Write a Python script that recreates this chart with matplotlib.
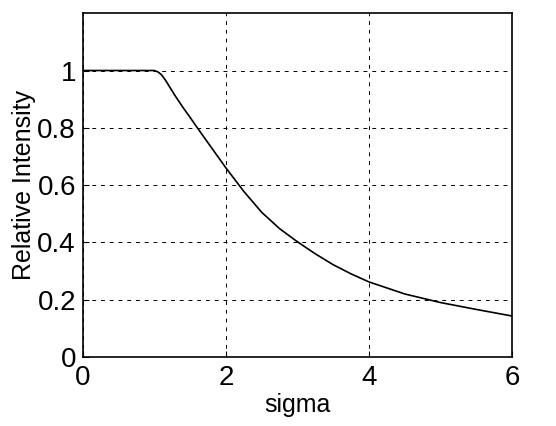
import matplotlib
matplotlib.use("Agg")
import matplotlib.pyplot as plt
from matplotlib.ticker import FuncFormatter

# Werte
sigma = [0.0, 0.5, 0.9, 1.0, 1.05, 1.1, 1.15, 1.2, 1.3, 1.4, 1.5, 1.6, 1.7,
         1.8, 1.9, 2.0, 2.25, 2.5, 2.75, 3.0, 3.25, 3.5, 3.75, 4.0, 4.5,
         5.0, 5.5, 6.0]
intensity = [1.0, 1.0, 1.0, 1.0, 0.995, 0.985, 0.968, 0.948, 0.908, 0.871,
             0.836, 0.80, 0.765, 0.73, 0.695, 0.66, 0.578, 0.505, 0.448,
             0.402, 0.36, 0.322, 0.29, 0.262, 0.22, 0.19, 0.166, 0.143]

x_ticks = [0, 2, 4, 6]
y_ticks = [0, 0.2, 0.4, 0.6, 0.8, 1.0]

plt.rcParams['font.family'] = ['Liberation Sans', 'DejaVu Sans']

fig = plt.figure(figsize=(5.56, 4.26), dpi=100)
ax = fig.add_axes([0.149, 0.162, 0.772, 0.807])

ax.plot(sigma, intensity, color='black', linewidth=1.2)

ax.set_xlim(0, 6)
ax.set_ylim(0, 1.2)
ax.set_xticks(x_ticks)
ax.set_yticks(y_ticks)
ax.yaxis.set_major_formatter(FuncFormatter(lambda v, p: f'{v:g}'))
ax.tick_params(direction='in', length=4, labelsize=20)
ax.tick_params(axis='x', pad=6)
ax.tick_params(axis='y', pad=5)
ax.grid(True, color='black', linestyle=(0, (4, 5)), linewidth=0.7)

for s in ax.spines.values():
    s.set_linewidth(1.2)

ax.set_xlabel('sigma', fontsize=18, labelpad=1)
ax.set_ylabel('Relative Intensity', fontsize=18, labelpad=1)

fig.savefig('out.png', dpi=100)
